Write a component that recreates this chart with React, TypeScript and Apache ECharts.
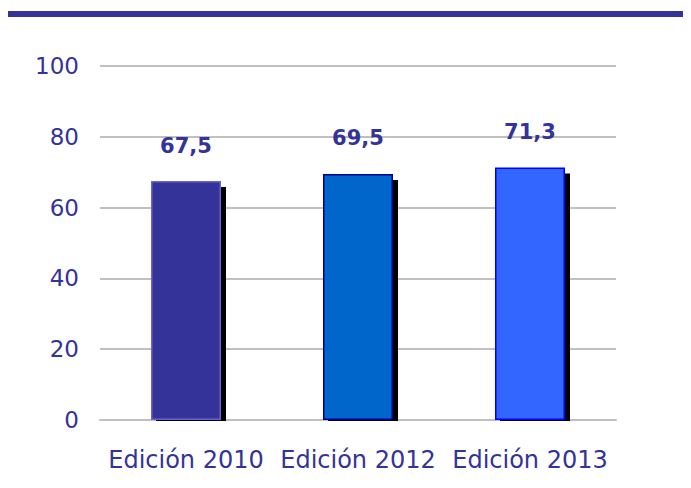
import React, { useEffect, useRef } from "react";
import * as echarts from "echarts";

const categories = ["Edición 2010", "Edición 2012", "Edición 2013"];
const values = [67.5, 69.5, 71.3];
const valueLabels = ["67,5", "69,5", "71,3"];
const barColors = ["#333399", "#0066CC", "#3366FF"];
const borderColors = ["#6666CC", "#000099", "#0000FF"];
const yTicks = [0, 20, 40, 60, 80, 100];

const FONT = "'DejaVu Sans', Verdana, sans-serif";
const NAVY = "#333399";

export default function App() {
  const ref = useRef<HTMLDivElement>(null);
  useEffect(() => {
    if (!ref.current) return;
    const chart = echarts.init(ref.current, undefined, { renderer: "svg" });
    chart.setOption({
      animation: false,
      backgroundColor: "#ffffff",
      graphic: [
        { type: "rect", shape: { x: 8, y: 11, width: 683, height: 6 }, style: { fill: NAVY } },
      ],
      grid: { left: 100, right: 75, top: 66, bottom: 68 },
      xAxis: {
        type: "category",
        data: categories,
        axisLine: { show: true, lineStyle: { color: "#c0c0c0", width: 2 } },
        axisTick: { show: false },
        axisLabel: {
          color: NAVY,
          fontFamily: FONT,
          fontSize: 24,
          margin: 28,
          interval: 0,
          hideOverlap: false,
        },
      },
      yAxis: {
        type: "value",
        min: yTicks[0],
        max: yTicks[yTicks.length - 1],
        interval: 20,
        axisLine: { show: false },
        axisTick: { show: false },
        axisLabel: { color: NAVY, fontFamily: FONT, fontSize: 23, margin: 21 },
        splitLine: { lineStyle: { color: "#c0c0c0", width: 2 } },
      },
      series: [
        {
          type: "custom",
          z: 1,
          data: values.map((v, i) => [i, v]),
          renderItem: (params: any, api: any) => {
            const i = api.value(0);
            const v = api.value(1);
            const top = api.coord([i, v]);
            const bottom = api.coord([i, 0]);
            const w = 70;
            return {
              type: "rect",
              shape: {
                x: top[0] - w / 2 + 5,
                y: top[1] + 6,
                width: w,
                height: bottom[1] - top[1] - 5,
              },
              style: { fill: "#000000" },
            };
          },
        },
        {
          type: "bar",
          z: 2,
          barWidth: 70,
          data: values.map((v, i) => ({
            value: v,
            itemStyle: { color: barColors[i], borderColor: borderColors[i], borderWidth: 1.5 },
          })),
          label: {
            show: true,
            position: "top",
            distance: 25,
            formatter: (p: any) => valueLabels[p.dataIndex],
            color: NAVY,
            fontFamily: FONT,
            fontWeight: "bold",
            fontSize: 21,
          },
        },
      ],
    });
    return () => chart.dispose();
  }, []);
  return <div ref={ref} style={{ width: 691, height: 488, margin: -8 }} />;
}
